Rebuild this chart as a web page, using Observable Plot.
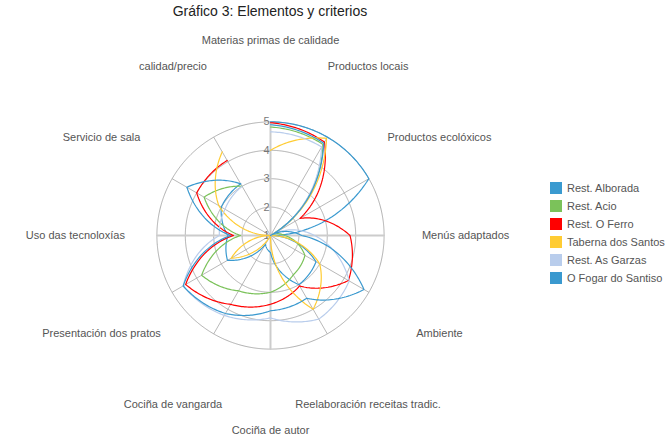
<!DOCTYPE html>
<html><head><meta charset="utf-8">
<script src="https://cdn.jsdelivr.net/npm/d3@7"></script>
<script src="https://cdn.jsdelivr.net/npm/@observablehq/plot@0.6"></script>
<style>
body{margin:0;background:#fff;font-family:"Liberation Sans",Arial,sans-serif;}
#wrap{position:relative;width:668px;height:448px;overflow:hidden}
#chart{position:absolute;left:0;top:0}
#title{position:absolute;left:0;top:3px;width:540px;text-align:center;font-size:14px;color:#222}
#legend{position:absolute;left:550px;top:179px;font-size:11px;color:#555}
.item{display:flex;align-items:center;height:18px;white-space:nowrap}
.sw{width:12px;height:12px;margin-right:5px;flex:none}
</style></head><body>
<div id="wrap"><div id="chart"></div><div id="title">Gráfico 3: Elementos y criterios</div><div id="legend"></div></div>
<script>
// ---- data ----
const axes = ["Materias primas de calidade","Productos locais","Productos ecolóxicos","Menús adaptados","Ambiente","Reelaboración receitas tradic.","Cociña de autor","Cociña de vangarda","Presentación dos pratos","Uso das tecnoloxías","Servicio de sala","calidad/precio"];
const seriesNames = ["Rest. Alborada","Rest. Acio","Rest. O Ferro","Taberna dos Santos","Rest. As Garzas","O Fogar do Santiso"];
const seriesColors = ["#3a9ad0","#7bc25a","#ff0000","#ffcc33","#b9cdec","#3a99cf"];
const alborada = [5.0, 5.0, 5.0, 1.0, 2.85, 3.0, 1.6, 1.35, 2.75, 2.5, 3.0, 3.1];
const acio     = [4.82, 4.7, 1.0, 1.5, 2.4, 2.6, 3.0, 3.25, 3.8, 2.05, 3.7, 3.0];
const oFerro   = [4.97, 4.8, 2.2, 3.8, 4.17, 3.05, 3.42, 3.8, 4.45, 2.3, 4.0, 4.05];
const taberna  = [4.0, 4.95, 1.0, 1.0, 3.0, 4.0, 1.05, 1.0, 2.6, 1.0, 3.1, 4.4];
const garzas   = [4.65, 4.6, 1.0, 2.55, 4.2, 4.4, 3.9, 4.25, 4.55, 2.8, 2.85, 3.0];
const fogar    = [4.9, 4.75, 1.0, 2.1, 4.8, 3.55, 3.65, 4.17, 4.55, 2.4, 4.4, 3.1];
const seriesValues = [alborada, acio, oFerro, taberna, garzas, fogar];
const ticks = [1, 2, 3, 4, 5];

// ---- layout ----
const W = 668, H = 448, CX = 270, CY = 235, R5 = 113.6;
const mL = CX - R5, mR = W - (CX + R5), mT = CY - R5, mB = H - (CY + R5);
const DEG = 1;                     // degrees of colatitude per unit
const vMin = 1, vMax = 5, vLabel = 7.87;
const lat = v => 90 - (v - vMin) * DEG;
const lon = i => 180 - i * 360 / axes.length;

const rows = seriesNames.flatMap((s, k) => seriesValues[k].map((v, i) => ({series: s, i, value: v})));

// curve: linear interpolation in polar space (angle and radius) between successive axes
function polarCurve(context) {
  let pts = [];
  return {
    areaStart() {}, areaEnd() {},
    lineStart() { pts = []; },
    point(x, y) { pts.push([+x, +y]); },
    lineEnd() {
      const n = pts.length;
      if (!n) return;
      const step = 2 * Math.PI / axes.length;
      const pol = pts.map(([x, y], i) => [Math.hypot(x - CX, y - CY), i * step]);
      context.moveTo(CX + pol[0][0] * Math.sin(pol[0][1]), CY - pol[0][0] * Math.cos(pol[0][1]));
      for (let i = 1; i < n; ++i) {
        const [r0, a0] = pol[i - 1], [r1, a1] = pol[i];
        const S = 30;
        for (let s = 1; s <= S; ++s) {
          const t = s / S, r = r0 + (r1 - r0) * t, a = a0 + (a1 - a0) * t;
          context.lineTo(CX + r * Math.sin(a), CY - r * Math.cos(a));
        }
      }
    }
  };
}

const circle = v => d3.geoCircle().center([0, 90]).radius((v - vMin) * DEG).precision(0.5)();

const chart = Plot.plot({
  width: W, height: H,
  marginLeft: mL, marginRight: mR, marginTop: mT, marginBottom: mB,
  style: {fontFamily: "'Liberation Sans', Arial, sans-serif", background: "transparent"},
  projection: {type: "azimuthal-equidistant", rotate: [0, -90], domain: circle(vMax), clip: false},
  color: {domain: seriesNames, range: seriesColors},
  marks: [
    Plot.geo([2, 3, 4, 5], {geometry: circle, fill: "none", stroke: "#9a9a9a", strokeWidth: 0.8}),
    Plot.link(axes, {x1: (d, i) => lon(i), y1: lat(vMax), x2: (d, i) => lon(i), y2: 90, stroke: "#9a9a9a", strokeWidth: 0.7}),
    Plot.link([0, 3, 6, 9], {x1: i => lon(i), y1: lat(vMax), x2: i => lon(i), y2: 90, stroke: "#cccccc", strokeWidth: 2}),
    Plot.text(ticks, {x: 180, y: d => lat(d), text: d => String(d), textAnchor: "end", dx: -1, fill: "#777", fontSize: 11}),
    Plot.line(rows, {x: d => lon(d.i), y: d => lat(d.value), z: "series", stroke: "series", strokeWidth: 1.2, curve: polarCurve}),
    Plot.text(axes, {x: (d, i) => lon(i), y: lat(vLabel), text: d => d, fill: "#555", fontSize: 11, textAnchor: "middle"})
  ]
});
document.getElementById("chart").appendChild(chart);

const legend = document.getElementById("legend");
seriesNames.forEach((s, k) => {
  const it = document.createElement("div"); it.className = "item";
  const sw = document.createElement("div"); sw.className = "sw"; sw.style.background = seriesColors[k];
  const tx = document.createElement("span"); tx.textContent = s;
  it.appendChild(sw); it.appendChild(tx); legend.appendChild(it);
});
</script>
</body></html>
